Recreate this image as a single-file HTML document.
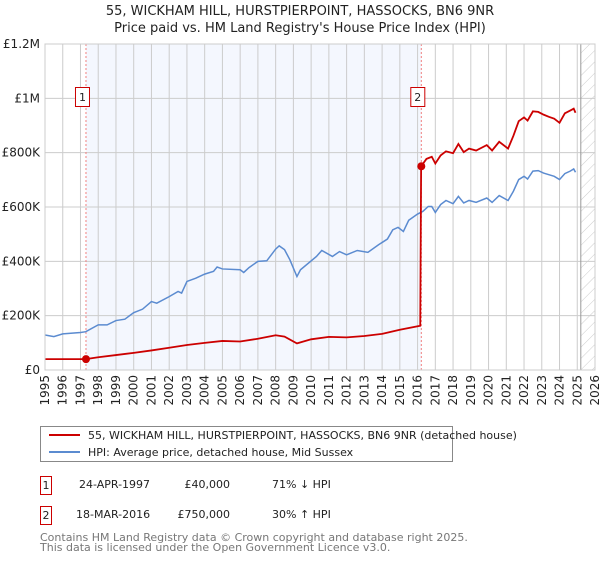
<!DOCTYPE html>
<html><head><meta charset="utf-8"><style>
body{margin:0;background:#fff;font-family:"DejaVu Sans","Liberation Sans",sans-serif;}
svg text{font-family:"DejaVu Sans","Liberation Sans",sans-serif;}
</style></head><body>
<svg id="chart" width="600" height="560" viewBox="0 0 600 560" xmlns="http://www.w3.org/2000/svg">
<defs>
<pattern id="hatch" patternUnits="userSpaceOnUse" width="8" height="8" patternTransform="rotate(45)">
<line x1="0" y1="0" x2="0" y2="8" stroke="#ccc" stroke-width="1"/>
</pattern>
</defs>
<text x="300" y="15" text-anchor="middle" font-size="13" fill="#222">55, WICKHAM HILL, HURSTPIERPOINT, HASSOCKS, BN6 9NR</text>
<text x="300" y="32" text-anchor="middle" font-size="13" fill="#222">Price paid vs. HM Land Registry's House Price Index (HPI)</text>
<g id="plot"></g>
<g>
<rect x="40.5" y="426.5" width="412" height="35" fill="#fff" stroke="#888"/>
<line x1="49" y1="435" x2="80" y2="435" stroke="#cc0000" stroke-width="2"/>
<text x="88" y="439" font-size="11" fill="#222">55, WICKHAM HILL, HURSTPIERPOINT, HASSOCKS, BN6 9NR (detached house)</text>
<line x1="49" y1="452" x2="80" y2="452" stroke="#5b8bd0" stroke-width="2"/>
<text x="88" y="456" font-size="11" fill="#222">HPI: Average price, detached house, Mid Sussex</text>
</g>
<g>
<rect x="40.5" y="476.5" width="11" height="18" fill="#fff" stroke="#cc0000"/>
<text x="46" y="489" text-anchor="middle" font-size="11" fill="#222">1</text>
<text x="79" y="488" font-size="11" fill="#222">24-APR-1997</text>
<text x="230" y="488" text-anchor="end" font-size="11" fill="#222">£40,000</text>
<text x="272" y="488" font-size="11" fill="#222">71% ↓ HPI</text>
<rect x="40.5" y="506.5" width="11" height="18" fill="#fff" stroke="#cc0000"/>
<text x="46" y="519" text-anchor="middle" font-size="11" fill="#222">2</text>
<text x="76" y="518" font-size="11" fill="#222">18-MAR-2016</text>
<text x="230" y="518" text-anchor="end" font-size="11" fill="#222">£750,000</text>
<text x="272" y="518" font-size="11" fill="#222">30% ↑ HPI</text>
</g>
<text x="40" y="541" font-size="11" fill="#777">Contains HM Land Registry data © Crown copyright and database right 2025.</text>
<text x="40" y="551" font-size="11" fill="#777">This data is licensed under the Open Government Licence v3.0.</text>
</svg>
<script>
const hpiYears=[1995,1995.5,1996,1997,1997.3,1998,1998.5,1999,1999.5,2000,2000.5,2001,2001.3,2002,2002.5,2002.7,2003,2003.5,2004,2004.5,2004.7,2005,2006,2006.2,2006.5,2007,2007.5,2008,2008.2,2008.5,2008.8,2009.2,2009.4,2010.3,2010.6,2011.2,2011.6,2012.0,2012.6,2013.2,2013.8,2014.3,2014.6,2014.9,2015.2,2015.5,2016.0,2016.3,2016.6,2016.8,2017.0,2017.3,2017.6,2018.0,2018.3,2018.6,2018.9,2019.3,2019.9,2020.2,2020.6,2021.1,2021.4,2021.7,2022.0,2022.2,2022.5,2022.8,2023.1,2023.4,2023.7,2024.0,2024.3,2024.6,2024.8,2024.9];
const hpiValues=[129,123,133,138,141,166,166,182,187,211,224,252,246,270,289,283,326,338,353,363,379,372,369,359,377,400,402,445,457,443,406,344,369,418,440,418,436,424,440,433,461,482,516,525,510,551,574,584,602,602,580,609,624,612,639,615,624,617,633,617,642,624,658,701,713,703,732,734,725,719,713,701,723,732,740,728];
const ppYears=[1995,1997.3,1998,1999,2000,2001,2002,2003,2004,2005,2006,2007,2008,2008.5,2009.2,2010,2011,2012,2013,2014,2015,2016.15,2016.2,2016.5,2016.8,2017.0,2017.3,2017.6,2018.0,2018.3,2018.6,2018.9,2019.3,2019.9,2020.2,2020.6,2021.1,2021.4,2021.7,2022.0,2022.2,2022.5,2022.8,2023.1,2023.4,2023.7,2024.0,2024.3,2024.6,2024.8,2024.9];
const ppValues=[40,40,47,55,63,72,82,92,100,107,105,115,128,123,98,113,122,120,125,133,148,163,750,777,785,760,790,805,798,832,802,815,808,828,808,840,815,862,916,930,918,952,950,940,932,925,910,945,955,962,947];
const sales=[{label:"1",year:1997.31,value:40},{label:"2",year:2016.21,value:750}];
const yTicks=[0,200,400,600,800,1000,1200];
const yTickLabels=["£0","£200K","£400K","£600K","£800K","£1M","£1.2M"];
const xTicks=[1995,1996,1997,1998,1999,2000,2001,2002,2003,2004,2005,2006,2007,2008,2009,2010,2011,2012,2013,2014,2015,2016,2017,2018,2019,2020,2021,2022,2023,2024,2025,2026];

const X0=45,X1=595,Y0=370,Y1=44;
const xs=y=>X0+(y-1995)/(2026-1995)*(X1-X0);
const ys=v=>Y0-v/1200*(Y0-Y1);
const NS="http://www.w3.org/2000/svg";
const g=document.getElementById('plot');
function mk(t,a){const e=document.createElementNS(NS,t);for(const k in a)e.setAttribute(k,a[k]);g.appendChild(e);return e;}
let e;
e=mk('rect',{x:xs(sales[0].year),y:Y1,width:xs(sales[1].year)-xs(sales[0].year),height:Y0-Y1,fill:'#f4f7fe'});


e=mk('rect',{x:xs(2025.2),y:Y1,width:X1-xs(2025.2),height:Y0-Y1,fill:'url(#hatch)'});


xTicks.forEach(t=>{
 e=mk('line',{x1:xs(t),x2:xs(t),y1:Y1,y2:Y0,stroke:'#ccc','stroke-width':1});
 
 
 e=mk('text',{x:0,y:0,transform:`translate(${xs(t)+4},375) rotate(-90)`,'text-anchor':'end','font-size':12,fill:'#222'});
 e.textContent=t;
 
 
});
yTicks.forEach((t,i)=>{
 e=mk('line',{x1:X0,x2:X1,y1:ys(t),y2:ys(t),stroke:'#ccc','stroke-width':1});
 
 
 e=mk('text',{x:X0-5,y:ys(t)+4,'text-anchor':'end','font-size':12,fill:'#222'});
 e.textContent=yTickLabels[i];
 
 
});
e=mk('line',{x1:xs(2025.2),x2:xs(2025.2),y1:Y1,y2:Y0,stroke:'#999','stroke-width':1});


sales.forEach(s=>{
 e=mk('line',{x1:xs(s.year),x2:xs(s.year),y1:Y1,y2:Y0,stroke:'#f08080','stroke-width':1,'stroke-dasharray':'2,2'});
 
 
});
e=mk('polyline',{points:hpiYears.map((y,i)=>xs(y)+','+ys(hpiValues[i])).join(' '),fill:'none',stroke:'#5b8bd0','stroke-width':1.5});


e=mk('polyline',{points:ppYears.map((y,i)=>xs(y)+','+ys(ppValues[i])).join(' '),fill:'none',stroke:'#cc0000','stroke-width':1.8});


sales.forEach(s=>{
 e=mk('circle',{cx:xs(s.year),cy:ys(s.value),r:4,fill:'#cc0000'});
 
 
 e=mk('rect',{x:xs(s.year)-10.5,y:87.5,width:14,height:19,fill:'#fff',stroke:'#cc0000'});
 
 
 e=mk('text',{x:xs(s.year)-3.5,y:101,'text-anchor':'middle','font-size':11,fill:'#222'});
 e.textContent=s.label;
 
 
});
e=mk('rect',{x:X0,y:Y1,width:X1-X0,height:Y0-Y1,fill:'none',stroke:'#ccc'});


</script>
</body></html>
